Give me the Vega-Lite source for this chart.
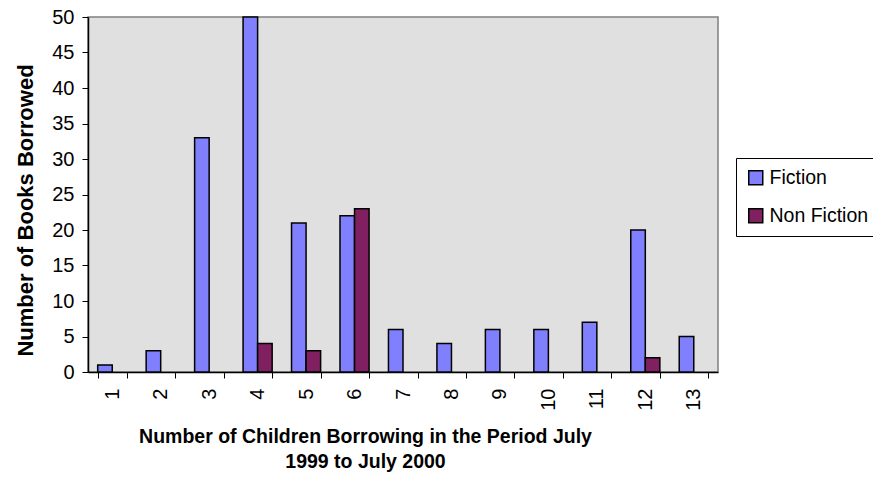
{
  "$schema": "https://vega.github.io/schema/vega-lite/v6.json",
  "width": 630,
  "height": 355,
  "autosize": {"type": "none"},
  "padding": {"left": 88, "top": 17, "right": 155, "bottom": 107},
  "background": "white",
  "config": {
    "font": "Liberation Sans",
    "view": {"fill": "#E0E0E0", "stroke": "#808080", "strokeWidth": 1.5},
    "axis": {
      "labelFont": "Liberation Sans",
      "titleFont": "Liberation Sans",
      "labelFontSize": 20,
      "labelColor": "black",
      "titleColor": "black",
      "domainColor": "black",
      "domainWidth": 1.5,
      "tickColor": "black",
      "tickWidth": 1,
      "tickSize": 6,
      "grid": false
    }
  },
  "data": {
    "values": [
      {"children": "1", "type": "Fiction", "books": 1},
      {"children": "2", "type": "Fiction", "books": 3},
      {"children": "3", "type": "Fiction", "books": 33},
      {"children": "4", "type": "Fiction", "books": 50},
      {"children": "4", "type": "Non Fiction", "books": 4},
      {"children": "5", "type": "Fiction", "books": 21},
      {"children": "5", "type": "Non Fiction", "books": 3},
      {"children": "6", "type": "Fiction", "books": 22},
      {"children": "6", "type": "Non Fiction", "books": 23},
      {"children": "7", "type": "Fiction", "books": 6},
      {"children": "8", "type": "Fiction", "books": 4},
      {"children": "9", "type": "Fiction", "books": 6},
      {"children": "10", "type": "Fiction", "books": 6},
      {"children": "11", "type": "Fiction", "books": 7},
      {"children": "12", "type": "Fiction", "books": 20},
      {"children": "12", "type": "Non Fiction", "books": 2},
      {"children": "13", "type": "Fiction", "books": 5}
    ]
  },
  "mark": {"type": "bar", "stroke": "black", "strokeWidth": 1.5},
  "encoding": {
    "x": {
      "field": "children",
      "type": "ordinal",
      "sort": ["1","2","3","4","5","6","7","8","9","10","11","12","13"],
      "scale": {"paddingInner": 0.4, "paddingOuter": 0.2},
      "axis": {
        "title": ["Number of Children Borrowing in the Period July", "1999 to July 2000"],
        "titleFontSize": 19.5,
        "titleFontWeight": "bold",
        "titleLineHeight": 25,
        "titleBaseline": "alphabetic",
        "titleAlign": "center",
        "titleX": 277,
        "titleY": 70,
        "labelAngle": 270,
        "labelPadding": 10,
        "tickBand": "extent"
      }
    },
    "xOffset": {
      "field": "type",
      "type": "nominal",
      "scale": {"domain": ["Fiction", "Non Fiction"]}
    },
    "y": {
      "field": "books",
      "type": "quantitative",
      "scale": {"domain": [0, 50], "nice": false},
      "axis": {
        "title": "Number of Books Borrowed",
        "titleFontSize": 22,
        "titleFontWeight": "bold",
        "titleAngle": 270,
        "titleBaseline": "alphabetic",
        "titleAlign": "center",
        "titleX": -56,
        "titleY": 193,
        "values": [0, 5, 10, 15, 20, 25, 30, 35, 40, 45, 50],
        "labelPadding": 8
      }
    },
    "fill": {
      "field": "type",
      "type": "nominal",
      "scale": {"domain": ["Fiction", "Non Fiction"], "range": ["#8080FF", "#802060"]},
      "legend": {
        "title": null,
        "orient": "none",
        "legendX": 648,
        "legendY": 141,
        "symbolType": "square",
        "symbolSize": 196,
        "symbolStrokeColor": "black",
        "symbolStrokeWidth": 1.5,
        "labelFont": "Liberation Sans",
        "labelFontSize": 19.5,
        "labelColor": "black",
        "rowPadding": 17,
        "strokeColor": "black",
        "padding": 10,
        "labelOffset": 4
      }
    }
  }
}
